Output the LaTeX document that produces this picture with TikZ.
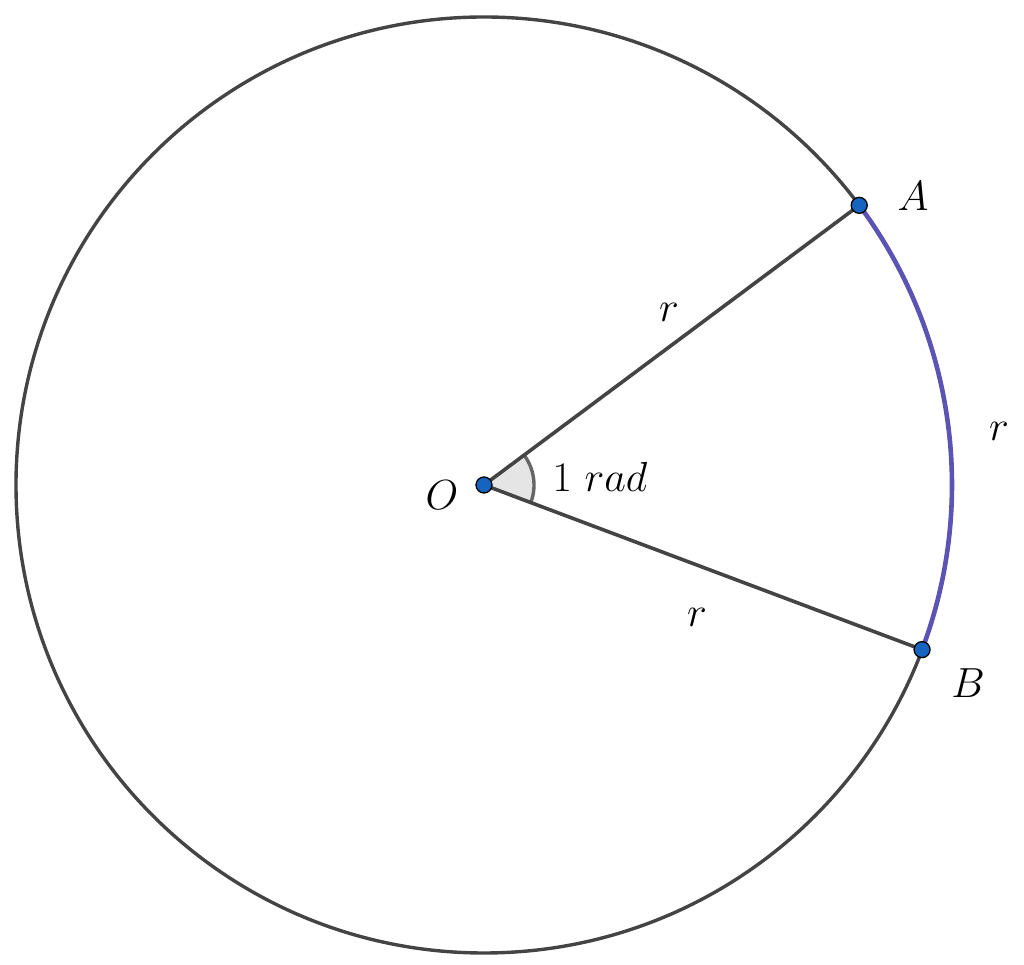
\documentclass[tikz,border=0pt]{standalone}
\usetikzlibrary{calc}
\definecolor{ptblue}{RGB}{21,101,192}
\definecolor{arcblue}{RGB}{92,84,180}
\definecolor{darkline}{RGB}{68,68,68}
\definecolor{markline}{RGB}{102,102,102}
\definecolor{markfill}{RGB}{229,229,229}
\newcommand{\lab}[1]{\scalebox{2.03}{\huge$#1$}}
\begin{document}
\begin{tikzpicture}[x=1pt,y=1pt,
  lbl/.style={inner sep=0pt},
  pt/.style={circle, fill=ptblue, draw=black, line width=1.3pt, minimum size=16pt, inner sep=0pt},
  seg/.style={draw=darkline, line width=3.6pt}]
\useasboundingbox (0,0) rectangle (1024,965);
\coordinate (O) at (484,480);
\def\R{468}
% angle marker
\fill[markfill] (O) -- ++(-20.6:50) arc[start angle=-20.6, end angle=36.7, radius=50] -- cycle;
\draw[markline, line width=3.4pt] (O) ++(-20.6:50) arc[start angle=-20.6, end angle=36.7, radius=50];
% circle
\draw[seg, line width=3.4pt] (O) circle[radius=\R];
% blue arc
\draw[arcblue, line width=4.6pt] (O) ++(-20.6:\R) arc[start angle=-20.6, end angle=36.7, radius=\R];
\coordinate (A) at ($(O)+(36.7:\R)$);
\coordinate (B) at ($(O)+(-20.6:\R)$);
\draw[seg] (O) -- (A);
\draw[seg] (O) -- (B);
\node[pt] (Ap) at (A) {};
\node[pt] (Bp) at (B) {};
\node[pt] (Op) at (O) {};
\node[lbl] (la) at (913,769) {\lab{A}};
\node[lbl] (lb) at (968,282) {\lab{B}};
\node[lbl] (lo) at (442,470) {\lab{O}};
\node[lbl] (r1) at (669,653) {\lab{r}};
\node[lbl] (r2) at (697,348) {\lab{r}};
\node[lbl] (r3) at (999,534) {\lab{r}};
\node[lbl] (ang) at (600,488) {\lab{1\ rad}};
\end{tikzpicture}
\end{document}
